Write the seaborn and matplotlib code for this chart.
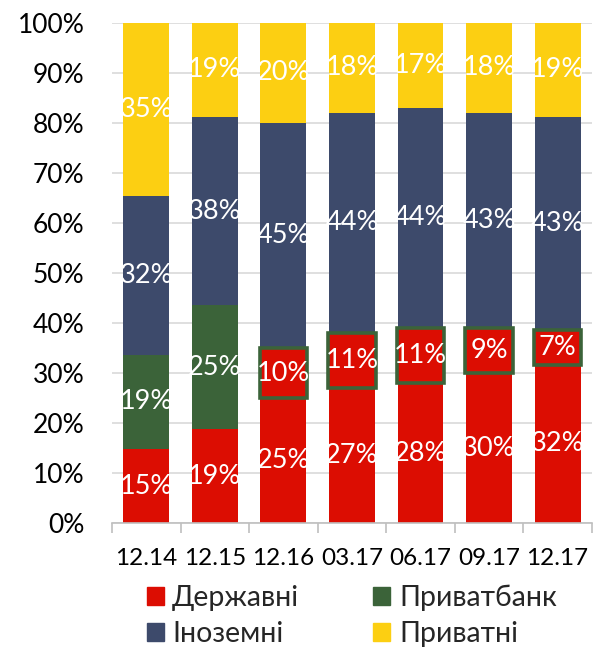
import numpy as np
import pandas as pd
import seaborn as sns
import matplotlib.pyplot as plt
from matplotlib.patches import Patch


################################################################################

periods = ["12.14", "12.15", "12.16", "03.17", "06.17", "09.17", "12.17"]
state = [15, 19, 25, 27, 28, 30, 32]        # Державні
privat = [19, 25, 10, 11, 11, 9, 7]         # Приватбанк
foreign = [32, 38, 45, 44, 44, 43, 43]      # Іноземні
private = [35, 19, 20, 18, 17, 18, 19]      # Приватні
nationalized_from = "12.16"

names = ["Державні", "Приватбанк", "Іноземні", "Приватні"]
colors = ["#dc0d02", "#3b6339", "#3d4a6b", "#fccf12"]


def main():
    sns.set_theme(style="white")
    plt.rcParams["font.family"] = ["Lato", "DejaVu Sans"]

    df = pd.DataFrame({"period": periods, "state": state, "privat": privat,
                       "foreign": foreign, "private": private})
    cols = ["state", "privat", "foreign", "private"]
    total = df[cols].sum(axis=1)
    share = df[cols].div(total, axis=0) * 100
    cum = share.cumsum(axis=1)

    nat_idx = periods.index(nationalized_from)
    privat_fill = [colors[1] if i < nat_idx else colors[0] for i in range(len(periods))]

    fig = plt.figure(figsize=(5.96, 6.5), dpi=100)
    ax = fig.add_axes([0.188, 0.195, 0.805, 0.77])

    w = 0.67
    kw = dict(width=w, saturation=1, ax=ax, zorder=2, linewidth=0)
    # overlapping cumulative bars, drawn from top layer down
    sns.barplot(x=df["period"], y=cum["private"], color=colors[3], **kw)
    sns.barplot(x=df["period"], y=cum["foreign"], color=colors[2], **kw)
    sns.barplot(x=df["period"], y=cum["privat"], hue=df["period"],
                palette=privat_fill, legend=False, dodge=False, **kw)
    sns.barplot(x=df["period"], y=cum["state"], color=colors[0], **kw)

    x = np.arange(len(periods))
    # green frame around Privatbank after nationalisation
    for i in range(nat_idx, len(periods)):
        ax.bar(x[i], share["privat"][i], bottom=cum["state"][i], width=w + 0.02,
               fill=False, edgecolor=colors[1], linewidth=2.6, zorder=3)

    # value labels
    for c in cols:
        mids = cum[c] - share[c] / 2
        for i in range(len(periods)):
            ax.text(x[i], mids[i], f"{df[c][i]}%", ha="center", va="center",
                    color="white", fontsize=19.5, zorder=4)

    ax.set_ylim(0, 100)
    ax.set_xlim(-0.5, len(periods) - 0.5)
    ax.set_yticks(np.arange(0, 101, 10))
    ax.set_yticklabels([f"{v}%" for v in range(0, 101, 10)])
    ax.yaxis.grid(True, color="#d9d9d9", linewidth=1.2, zorder=0)
    ax.set_axisbelow(True)
    ax.set_xlabel("")
    ax.set_ylabel("")

    for s in ["top", "right", "left"]:
        ax.spines[s].set_visible(False)
    ax.spines["bottom"].set_color("#bfbfbf")
    ax.spines["bottom"].set_linewidth(1.2)

    ax.set_xticks(np.arange(-0.5, len(periods)), minor=True)
    ax.tick_params(axis="x", which="minor", length=7, color="#bfbfbf", width=1.2,
                   bottom=True)
    ax.tick_params(axis="x", which="major", length=0, pad=18, labelsize=17.5,
                   labelcolor="black")
    ax.tick_params(axis="y", length=0, pad=20, labelsize=19, labelcolor="black")

    handles = [Patch(color=colors[0]), Patch(color=colors[2]),
               Patch(color=colors[1]), Patch(color=colors[3])]
    labels = [names[0], names[2], names[1], names[3]]
    fig.legend(handles, labels, ncol=2, loc="lower center",
               bbox_to_anchor=(0.59, -0.035), frameon=False, fontsize=20.5,
               handlelength=0.6, handleheight=0.6, handletextpad=0.3,
               columnspacing=2.6, labelspacing=0.35)

    fig.savefig("out.png", dpi=100)

main()
